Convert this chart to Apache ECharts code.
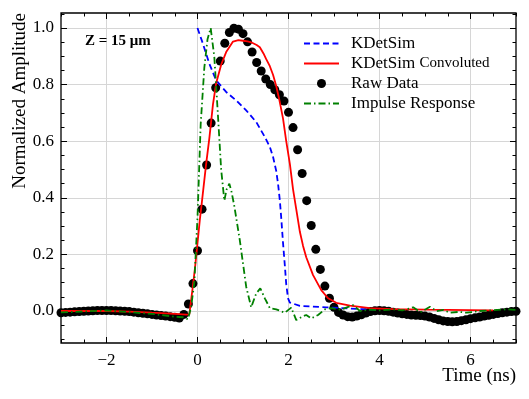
<!DOCTYPE html>
<html>
<head>
<meta charset="utf-8">
<script src="https://cdn.jsdelivr.net/npm/echarts@6/dist/echarts.min.js"></script>
<style>
  html, body { margin: 0; padding: 0; background: #fff; }
  #chart { width: 529px; height: 399px; }
</style>
</head>
<body>
<div id="chart"></div>
<script>
// tick values
const majorX = [-2, 0, 2, 4, 6];
const minorX = [-3, -2.5, -2, -1.5, -1, -0.5, 0, 0.5, 1, 1.5, 2, 2.5, 3, 3.5, 4, 4.5, 5, 5.5, 6, 6.5, 7];
const majorY = [0, 0.2, 0.4, 0.6, 0.8, 1.0];
const minorY = [-0.1, -0.05, 0, 0.05, 0.1, 0.15, 0.2, 0.25, 0.3, 0.35, 0.4, 0.45, 0.5, 0.55, 0.6, 0.65, 0.7, 0.75, 0.8, 0.85, 0.9, 0.95, 1.0, 1.05];

// raw data (time in ns, normalized amplitude)
const rawTime = [
  -3.0, -2.9, -2.8, -2.7, -2.6, -2.5, -2.4, -2.3, -2.2, -2.1,
  -2.0, -1.9, -1.8, -1.7, -1.6, -1.5, -1.4, -1.3, -1.2, -1.1,
  -1.0, -0.9, -0.8, -0.7, -0.6, -0.5, -0.4, -0.3, -0.2, -0.1,
  0.0, 0.1, 0.2, 0.3, 0.4, 0.5, 0.6, 0.7, 0.8, 0.9,
  1.0, 1.1, 1.2, 1.3, 1.4, 1.5, 1.6, 1.7, 1.8, 1.9,
  2.0, 2.1, 2.2, 2.3, 2.4, 2.5, 2.6, 2.7, 2.8, 2.9,
  3.0, 3.1, 3.2, 3.3, 3.4, 3.5, 3.6, 3.7, 3.8, 3.9,
  4.0, 4.1, 4.2, 4.3, 4.4, 4.5, 4.6, 4.7, 4.8, 4.9,
  5.0, 5.1, 5.2, 5.3, 5.4, 5.5, 5.6, 5.7, 5.8, 5.9,
  6.0, 6.1, 6.2, 6.3, 6.4, 6.5, 6.6, 6.7, 6.8, 6.9,
  7.0
];
const rawAmp = [
  -0.006, -0.005, -0.004, -0.003, -0.002, -0.001, 0.000, 0.001, 0.002, 0.002,
  0.002, 0.002, 0.001, 0.000, -0.001, -0.002, -0.004, -0.006, -0.008, -0.010,
  -0.012, -0.014, -0.016, -0.018, -0.020, -0.022, -0.025, -0.012, 0.025, 0.097,
  0.213, 0.360, 0.516, 0.664, 0.789, 0.883, 0.946, 0.984, 0.999, 0.996,
  0.980, 0.951, 0.915, 0.878, 0.848, 0.820, 0.800, 0.782, 0.764, 0.742,
  0.702, 0.648, 0.570, 0.486, 0.390, 0.302, 0.218, 0.147, 0.088, 0.045,
  0.013, -0.005, -0.014, -0.020, -0.021, -0.018, -0.013, -0.007, -0.002, 0.001,
  0.002, 0.001, -0.001, -0.004, -0.007, -0.010, -0.012, -0.014, -0.015, -0.016,
  -0.018, -0.021, -0.026, -0.031, -0.035, -0.037, -0.038, -0.037, -0.034, -0.031,
  -0.027, -0.024, -0.021, -0.018, -0.015, -0.012, -0.009, -0.006, -0.004, -0.002,
  -0.001
];

// KDetSim simulation
const simData = [
  [0.0, 1.0], [0.12, 0.944], [0.26, 0.874], [0.41, 0.815], [0.63, 0.774],
  [0.85, 0.744], [1.07, 0.709], [1.29, 0.668], [1.48, 0.615], [1.59, 0.58],
  [1.66, 0.545], [1.73, 0.495], [1.77, 0.45], [1.81, 0.39], [1.84, 0.33],
  [1.88, 0.24], [1.92, 0.16], [1.95, 0.095], [1.99, 0.045], [2.03, 0.03],
  [2.25, 0.018], [2.83, 0.013], [3.57, 0.007], [4.0, 0.005]
];

// KDetSim convoluted with impulse response
const convData = [
  [-3.0, 0.0], [-2.0, 0.0], [-1.5, -0.002], [-1.0, -0.006], [-0.6, -0.009],
  [-0.4, -0.011], [-0.25, -0.013], [-0.18, -0.012], [-0.1, 0.09], [-0.05, 0.16],
  [0.0, 0.24], [0.05, 0.32], [0.1, 0.39], [0.19, 0.52], [0.26, 0.61],
  [0.34, 0.73], [0.41, 0.805], [0.52, 0.87], [0.63, 0.915], [0.78, 0.952],
  [0.9, 0.957], [1.0, 0.955], [1.1, 0.953], [1.2, 0.948], [1.3, 0.94],
  [1.37, 0.932], [1.45, 0.91], [1.51, 0.89], [1.59, 0.865], [1.66, 0.835],
  [1.73, 0.795], [1.8, 0.745], [1.88, 0.68], [1.95, 0.60], [2.03, 0.52],
  [2.1, 0.43], [2.17, 0.36], [2.25, 0.28], [2.32, 0.23], [2.39, 0.19],
  [2.54, 0.127], [2.72, 0.074], [2.87, 0.045], [3.05, 0.029], [3.35, 0.019],
  [3.79, 0.01], [4.3, 0.007], [5.0, 0.005], [6.0, 0.003], [6.5, 0.002]
];

// impulse response of the readout
const impulseData = [
  [-3.0, -0.005], [-2.0, 0.002], [-1.0, -0.01], [-0.5, -0.02], [-0.32, -0.022],
  [-0.21, -0.029], [-0.14, 0.015], [-0.07, 0.1], [0.0, 0.33], [0.07, 0.66],
  [0.15, 0.86], [0.22, 0.96], [0.29, 1.0], [0.37, 0.897], [0.45, 0.69],
  [0.52, 0.5], [0.59, 0.39], [0.64, 0.43], [0.70, 0.45], [0.75, 0.42],
  [0.81, 0.37], [0.93, 0.25], [1.07, 0.086], [1.18, 0.013], [1.29, 0.062],
  [1.38, 0.08], [1.48, 0.045], [1.59, 0.01], [1.73, 0.006], [1.92, -0.006],
  [2.06, 0.012], [2.17, -0.032], [2.3, -0.02], [2.39, -0.014], [2.5, -0.026],
  [2.65, -0.014], [2.8, 0.006], [2.94, 0.01], [3.15, 0.005], [3.42, 0.021],
  [3.57, 0.0], [3.8, 0.005], [4.0, 0.002], [4.3, 0.006], [4.5, 0.002],
  [4.74, 0.013], [4.9, -0.004], [5.11, 0.015], [5.26, 0.0], [5.4, 0.004],
  [5.55, -0.006], [5.75, -0.003], [5.92, -0.006], [6.2, 0.0], [6.5, 0.003],
  [6.8, 0.006], [7.0, 0.004]
];

const serif = "'Liberation Serif', 'DejaVu Serif', serif";
const X_MIN = -3, X_MAX = 7, Y_MIN = -0.113, Y_MAX = 1.053;

function xAxisCfg(pos, ticks, len, withLabels) {
  return {
    type: "value", min: X_MIN, max: X_MAX, position: pos,
    axisLine: { show: false, onZero: false },
    axisTick: { show: true, inside: true, length: len, customValues: ticks,
      lineStyle: { color: "#000", width: 1 } },
    axisLabel: withLabels ? {
      show: true, customValues: ticks, margin: 9, color: "#000",
      fontFamily: serif, fontSize: 17,
      formatter: v => v < 0 ? "\u2212" + Math.abs(v) : String(v)
    } : { show: false },
    splitLine: withLabels && pos === "bottom"
      ? { show: true, lineStyle: { color: "#d6d6d6", width: 1 } }
      : { show: false }
  };
}

function yAxisCfg(pos, ticks, len, withLabels) {
  return {
    type: "value", min: Y_MIN, max: Y_MAX, position: pos,
    axisLine: { show: false, onZero: false },
    axisTick: { show: true, inside: true, length: len, customValues: ticks,
      lineStyle: { color: "#000", width: 1 } },
    axisLabel: withLabels ? {
      show: true, customValues: ticks, margin: 7, color: "#000",
      fontFamily: serif, fontSize: 17,
      formatter: v => v.toFixed(1)
    } : { show: false },
    splitLine: withLabels && pos === "left"
      ? { show: true, lineStyle: { color: "#d6d6d6", width: 1 } }
      : { show: false }
  };
}

const chart = echarts.init(document.getElementById("chart"));

chart.setOption({
  animation: false,
  backgroundColor: "#fff",
  grid: {
    left: 61, top: 13, width: 455, height: 330,
    show: true, borderColor: "#000", borderWidth: 1.3, backgroundColor: "transparent"
  },
  xAxis: [
    xAxisCfg("bottom", majorX, 6, true),
    xAxisCfg("bottom", minorX, 3.5, false),
    xAxisCfg("top", majorX, 6, false),
    xAxisCfg("top", minorX, 3.5, false)
  ],
  yAxis: [
    yAxisCfg("left", majorY, 6, true),
    yAxisCfg("left", minorY, 3.5, false),
    yAxisCfg("right", majorY, 6, false),
    yAxisCfg("right", minorY, 3.5, false)
  ],
  legend: {
    orient: "vertical",
    left: 303, top: 35, padding: 0,
    itemWidth: 35, itemHeight: 9, itemGap: 3,
    data: ["KDetSim", "KDetSim Convoluted", "Raw Data", "Impulse Response"],
    formatter: name => name === "KDetSim Convoluted" ? "{a|KDetSim} {b|Convoluted}" : name,
    textStyle: {
      fontFamily: serif, fontSize: 17, color: "#000", lineHeight: 16,
      padding: [0, 0, 0, 7],
      rich: {
        a: { fontFamily: serif, fontSize: 17, color: "#000", lineHeight: 16 },
        b: { fontFamily: serif, fontSize: 15, color: "#000", lineHeight: 16 }
      }
    }
  },
  graphic: [
    {
      type: "text", left: 85, top: 34, z: 10,
      style: { text: "Z = 15 \u03bcm", font: "bold 15px " + serif, fill: "#000" }
    },
    {
      type: "text", x: 20, y: 13, rotation: Math.PI / 2, z: 10,
      style: { text: "Normalized Amplitude", font: "19px " + serif, fill: "#000",
        align: "right", verticalAlign: "middle" }
    },
    {
      type: "text", x: 516, y: 376, z: 10,
      style: { text: "Time (ns)", font: "19px " + serif, fill: "#000",
        align: "right", verticalAlign: "middle" }
    }
  ],
  series: [
    {
      name: "Raw Data", type: "scatter", z: 1,
      data: rawTime.map((t, i) => [t, rawAmp[i]]),
      symbol: "circle", symbolSize: 9,
      itemStyle: { color: "#000", opacity: 1 }
    },
    {
      name: "KDetSim", type: "line", z: 3,
      data: simData, showSymbol: false, symbol: "none",
      lineStyle: { color: "#0000ff", width: 1.8, type: [6, 3.5] },
      itemStyle: { color: "#0000ff", opacity: 0 }
    },
    {
      name: "KDetSim Convoluted", type: "line", z: 3,
      data: convData, showSymbol: false, symbol: "none",
      lineStyle: { color: "#ff0000", width: 1.8 },
      itemStyle: { color: "#ff0000", opacity: 0 }
    },
    {
      name: "Impulse Response", type: "line", z: 4,
      data: impulseData, showSymbol: false, symbol: "none",
      lineStyle: { color: "#008000", width: 1.8, type: [7, 3, 1.5, 3] },
      itemStyle: { color: "#008000", opacity: 0 }
    }
  ]
});
</script>
</body>
</html>
